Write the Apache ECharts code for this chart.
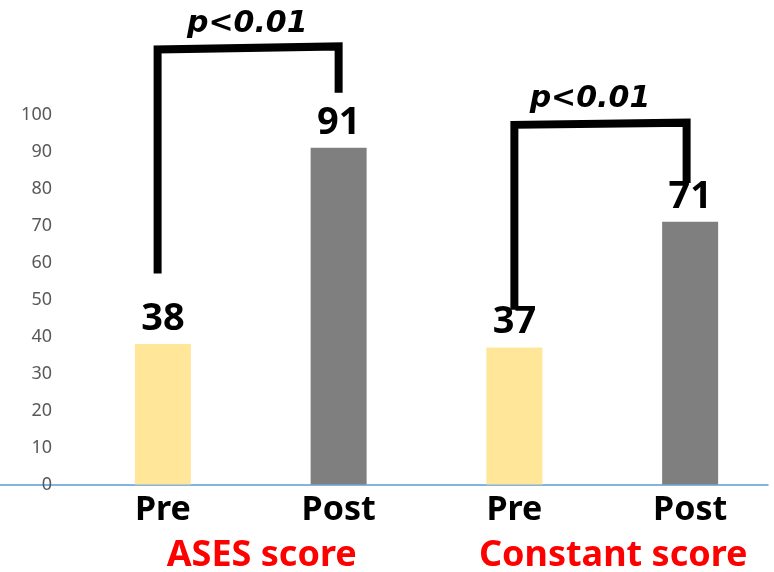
<!DOCTYPE html>
<html>
<head>
<meta charset="utf-8">
<script src="https://cdn.jsdelivr.net/npm/echarts@6/dist/echarts.min.js"></script>
<style>
html,body{margin:0;padding:0;background:#fff;}
#chart{width:774px;height:572px;}
</style>
</head>
<body>
<div id="chart"></div>
<script>
// ---- data ----
const categories = ['Pre', 'Post', 'Pre', 'Post'];
const scores = [38, 91, 37, 71];
const groups = ['ASES score', 'Constant score'];
const yTickMax = 100;
// significance brackets as [category position, value] points
const bracketASES = [[-0.03, 57], [-0.03, 117.6], [1, 118.4], [1, 105.9]];
const bracketConstant = [[2, 47.2], [2, 97.2], [2.98, 97.8], [2.98, 81.5]];
const pValueLabels = ['p<0.01', 'p<0.01'];
const pValuePositions = [[0.48, 124.3], [2.43, 104]];

// ---- styles ----
const preColor = '#FFE699';
const postColor = '#7F7F7F';

const chart = echarts.init(document.getElementById('chart'), null, {renderer: 'canvas'});

const option = {
  animation: false,
  backgroundColor: '#ffffff',
  grid: [
    {left: 75, width: 703, top: 3.5, bottom: 87.5, outerBoundsMode: 'none', containLabel: false},
    {left: 0, width: 768, top: 3.5, bottom: 87.5, outerBoundsMode: 'none', containLabel: false}
  ],
  xAxis: [
    {
      type: 'category', gridIndex: 0, position: 'bottom', data: categories,
      axisLine: {show: false}, axisTick: {show: false}, splitLine: {show: false},
      axisLabel: {
        interval: 0, margin: 9, color: '#000', fontSize: 34, fontWeight: 'bold',
        fontFamily: 'Noto Sans'
      }
    },
    {
      type: 'value', gridIndex: 0, min: -0.5, max: 3.5, show: false
    },
    {
      type: 'category', gridIndex: 0, position: 'bottom', data: groups,
      axisLine: {show: false}, axisTick: {show: false}, splitLine: {show: false},
      axisLabel: {
        interval: 0, margin: 53, color: '#FF0000', fontSize: 36, fontWeight: 'bold',
        fontFamily: 'Noto Sans', padding: [0, 0, 0, 22]
      }
    },
    {
      type: 'category', gridIndex: 1, position: 'bottom', data: [''],
      axisLine: {show: true, lineStyle: {color: '#5B9BD5', width: 1.5}},
      axisTick: {show: false}, axisLabel: {show: false}, splitLine: {show: false}
    }
  ],
  yAxis: [
    {
      type: 'value', gridIndex: 0, min: 0, max: 130, interval: 10,
      axisLine: {show: false}, axisTick: {show: false}, splitLine: {show: false},
      axisLabel: {
        margin: 23, color: '#595959', fontSize: 18, fontFamily: 'Noto Sans',
        formatter: v => (v <= yTickMax ? String(v) : '')
      }
    },
    {
      type: 'value', gridIndex: 1, min: 0, max: 1, show: false
    }
  ],
  series: [
    {
      type: 'bar', xAxisIndex: 0, yAxisIndex: 0, barWidth: 56,
      data: scores.map((v, i) => ({value: v, itemStyle: {color: i % 2 === 0 ? preColor : postColor}})),
      label: {
        show: true, position: 'top', distance: 6, color: '#000',
        fontSize: 38, fontWeight: 'bold', fontFamily: 'Noto Sans'
      },
      z: 2
    },
    {
      type: 'line', xAxisIndex: 1, yAxisIndex: 0, data: bracketASES,
      symbol: 'none', silent: true,
      lineStyle: {color: '#000', width: 8, cap: 'butt', join: 'miter'}, z: 3
    },
    {
      type: 'line', xAxisIndex: 1, yAxisIndex: 0, data: bracketConstant,
      symbol: 'none', silent: true,
      lineStyle: {color: '#000', width: 8, cap: 'butt', join: 'miter'}, z: 3
    },
    {
      type: 'scatter', xAxisIndex: 1, yAxisIndex: 0, data: pValuePositions,
      symbolSize: 0, silent: true,
      itemStyle: {opacity: 1},
      label: {
        show: true, position: 'inside', color: '#000000', opacity: 1,
        textBorderWidth: 0,
        fontSize: 30, fontWeight: 'bold', fontStyle: 'italic', fontFamily: 'DejaVu Sans',
        formatter: p => pValueLabels[p.dataIndex]
      }, z: 4
    }
  ]
};
chart.setOption(option);
</script>
</body>
</html>
